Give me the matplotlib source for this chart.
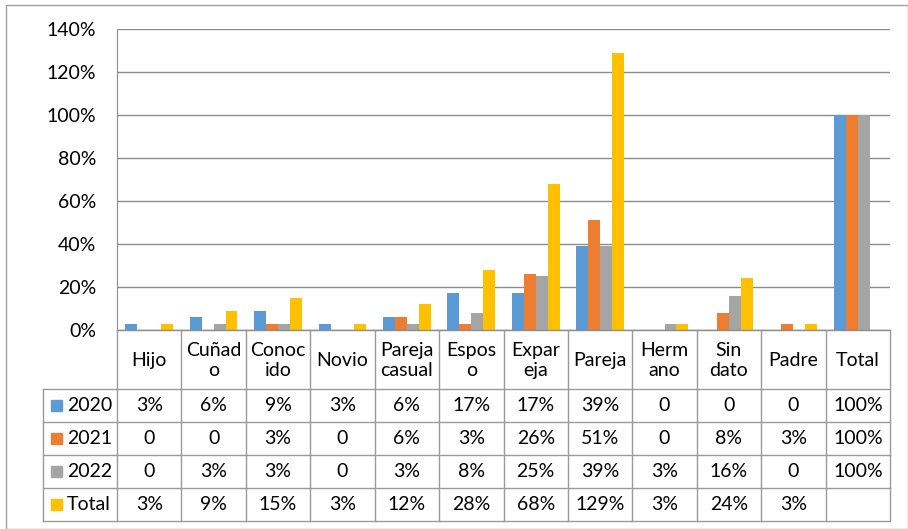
import numpy as np
import matplotlib
matplotlib.use("Agg")
import matplotlib.pyplot as plt
from matplotlib.patches import Rectangle

plt.rcParams['font.family'] = ['Lato', 'DejaVu Sans']

categorias = ["Hijo", "Cuñad\no", "Conoc\nido", "Novio", "Pareja\ncasual", "Espos\no",
              "Expar\neja", "Pareja", "Herm\nano", "Sin\ndato", "Padre", "Total"]
series = ["2020", "2021", "2022", "Total"]
v2020 = [0.03, 0.06, 0.09, 0.03, 0.06, 0.17, 0.17, 0.39, 0, 0, 0, 1.00]
v2021 = [0, 0, 0.03, 0, 0.06, 0.03, 0.26, 0.51, 0, 0.08, 0.03, 1.00]
v2022 = [0, 0.03, 0.03, 0, 0.03, 0.08, 0.25, 0.39, 0.03, 0.16, 0, 1.00]
vtotal = [0.03, 0.09, 0.15, 0.03, 0.12, 0.28, 0.68, 1.29, 0.03, 0.24, 0.03, None]
colores = ["#5B9BD5", "#ED7D31", "#A5A5A5", "#FFC000"]
yticks = [0, 0.2, 0.4, 0.6, 0.8, 1.0, 1.2, 1.4]

W, H = 908, 529
fs = 14
fig = plt.figure(figsize=(W / 100, H / 100), dpi=100)

# area del grafico en pixeles
px_l, px_r, px_t, px_b = 117, 890, 29, 330
ax = fig.add_axes([px_l / W, 1 - px_b / H, (px_r - px_l) / W, (px_b - px_t) / H])

n = len(categorias)
x = np.arange(n)
w = 1 / 5.4
datos = [v2020, v2021, v2022, vtotal]
for k, (vals, col) in enumerate(zip(datos, colores)):
    vv = [np.nan if v is None else v for v in vals]
    ax.bar(x + (k - 1.5) * w, vv, width=w, color=col, zorder=3)

ax.set_xlim(-0.5, n - 0.5)
ax.set_ylim(0, 1.4)
ax.set_yticks(yticks)
ax.set_yticklabels([f"{int(round(t * 100))}%" for t in yticks], fontsize=fs)
ax.set_xticks([])
ax.tick_params(axis='y', length=0, pad=15)
ax.grid(axis='y', color='#8c8c8c', linewidth=1, zorder=0)
for s in ['top', 'right', 'bottom']:
    ax.spines[s].set_visible(False)
ax.spines['left'].set_color('#8c8c8c')

# tabla de datos en coordenadas de pixel
tb = fig.add_axes([0, 0, 1, 1], zorder=5)
tb.set_xlim(0, W)
tb.set_ylim(H, 0)
tb.axis('off')
tb.patch.set_alpha(0)

lc = '#9a9a9a'
cw = (px_r - px_l) / n
leg_l = 43
rows = [330, 389, 422, 455, 488, 521]
edges = [px_l + i * cw for i in range(n + 1)]

# lineas horizontales
tb.plot([px_l, px_r], [rows[0], rows[0]], color='#8c8c8c', lw=1)
for yy in rows[1:]:
    tb.plot([leg_l, px_r], [yy, yy], color=lc, lw=1)
# lineas verticales
for ex in edges:
    tb.plot([ex, ex], [rows[0], rows[-1]], color=lc, lw=1)
tb.plot([leg_l, leg_l], [rows[1], rows[-1]], color=lc, lw=1)

# encabezados
for i, c in enumerate(categorias):
    tb.text(edges[i] + cw / 2, (rows[0] + rows[1]) / 2 + 1, c, ha='center', va='center',
            fontsize=fs, linespacing=1.2)

def fmt(v):
    if v is None:
        return ""
    if v == 0:
        return "0"
    return f"{int(round(v * 100))}%"

for r, (nombre, vals, col) in enumerate(zip(series, datos, colores)):
    yc = (rows[r + 1] + rows[r + 2]) / 2
    tb.add_patch(Rectangle((51, yc - 5.5), 11, 11, color=col))
    tb.text(67, yc, nombre, ha='left', va='center', fontsize=fs)
    for i, v in enumerate(vals):
        tb.text(edges[i] + cw / 2, yc, fmt(v), ha='center', va='center', fontsize=fs)

# marco exterior
tb.add_patch(Rectangle((6, 5), W - 6.5, H - 5.5, fill=False, edgecolor='#a0a0a0', lw=1))

fig.savefig("out.png", dpi=100)
